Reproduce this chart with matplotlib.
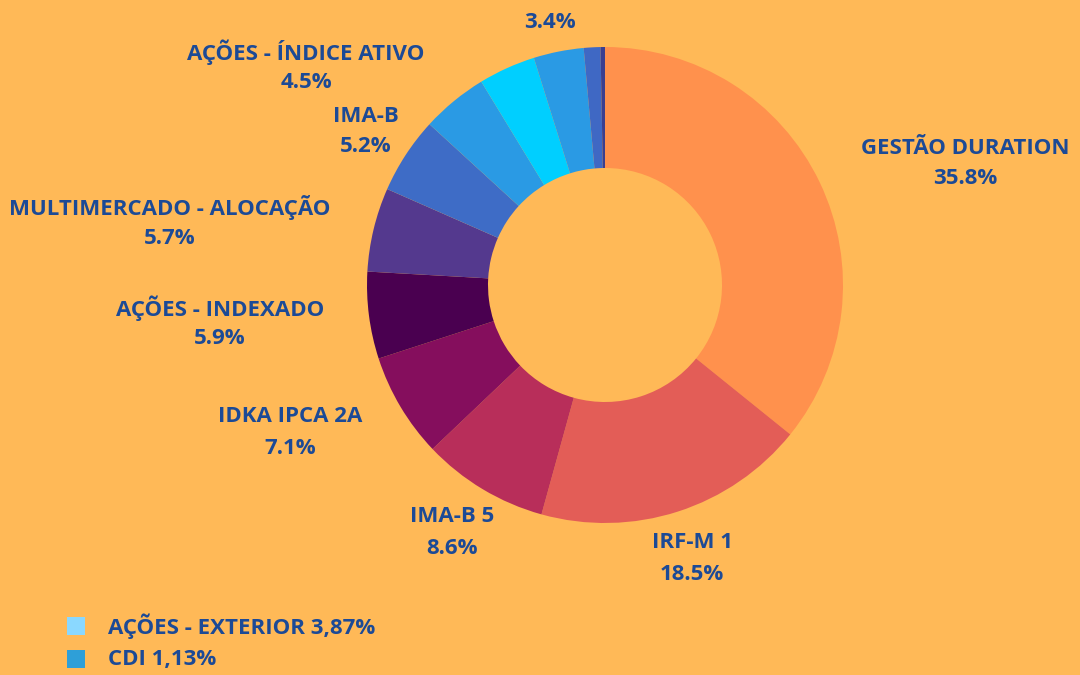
import matplotlib.pyplot as plt
from matplotlib.patches import Rectangle

# fatias no sentido horário a partir do topo
categorias = [
    "GESTÃO DURATION", "IRF-M 1", "IMA-B 5", "IDKA IPCA 2A", "AÇÕES - INDEXADO",
    "MULTIMERCADO - ALOCAÇÃO", "IMA-B", "AÇÕES - ÍNDICE ATIVO", "AÇÕES - EXTERIOR",
    "MULTIMERCADO - MACRO", "CDI", "OUTROS",
]
valores = [35.8, 18.5, 8.6, 7.1, 5.9, 5.7, 5.2, 4.5, 3.87, 3.4, 1.13, 0.3]
cores = [
    "#FF914D", "#E35D57", "#B82E5A", "#850E5D", "#4A0050", "#54398E",
    "#3E6CC6", "#2A9AE4", "#00CFFF", "#2A9AE4", "#3F68C4", "#3B3F8F",
]
# quais fatias recebem rótulo no gráfico
rotulada = [True, True, True, True, True, True, True, True, False, True, False, False]

legenda_txt = ["AÇÕES - EXTERIOR 3,87%", "CDI 1,13%"]
legenda_cor = ["#8AD8FF", "#2E9FD8"]

FUNDO = "#FFB957"
TEXTO = "#1C4A96"
FONTE = "Open Sans"
TAM = 16

# posições dos rótulos (pixels, origem no topo esquerdo)
pos_rotulos = [
    (965, 148), (692, 543), (452, 517), (290, 417), (220, 308),
    (170, 207), (366, 116), (306, 52), None, (550, -9), None, None,
]

W, H = 1080, 675
fig = plt.figure(figsize=(10.8, 6.75), dpi=100, facecolor=FUNDO)
ax = fig.add_axes([0, 0, 1, 1])
ax.set_facecolor(FUNDO)

cx, cy, r = 605, H - 285, 238
ax.pie(valores, colors=cores, startangle=90, counterclock=False,
       center=(cx, cy), radius=r, frame=True,
       wedgeprops=dict(width=r - 117, linewidth=0))
ax.set_xlim(0, W)
ax.set_ylim(0, H)
ax.axis("off")

for cat, val, mostra, pos in zip(categorias, valores, rotulada, pos_rotulos):
    if not mostra:
        continue
    x, y = pos
    ax.text(x, H - y, cat, ha="center", va="center", fontsize=TAM,
            fontweight="bold", family=FONTE, color=TEXTO)
    ax.text(x, H - y - 31, f"{val:.1f}%", ha="center", va="center",
            fontsize=TAM, fontweight="bold", family=FONTE, color=TEXTO)

for i, (txt, cor) in enumerate(zip(legenda_txt, legenda_cor)):
    y = H - 626 - i * 33
    ax.add_patch(Rectangle((67, y - 9), 18, 18, color=cor, lw=0))
    ax.text(108, y, txt, ha="left", va="center", fontsize=TAM,
            fontweight="bold", family=FONTE, color=TEXTO)

fig.savefig("out.png", dpi=100, facecolor=FUNDO)
plt.close(fig)
